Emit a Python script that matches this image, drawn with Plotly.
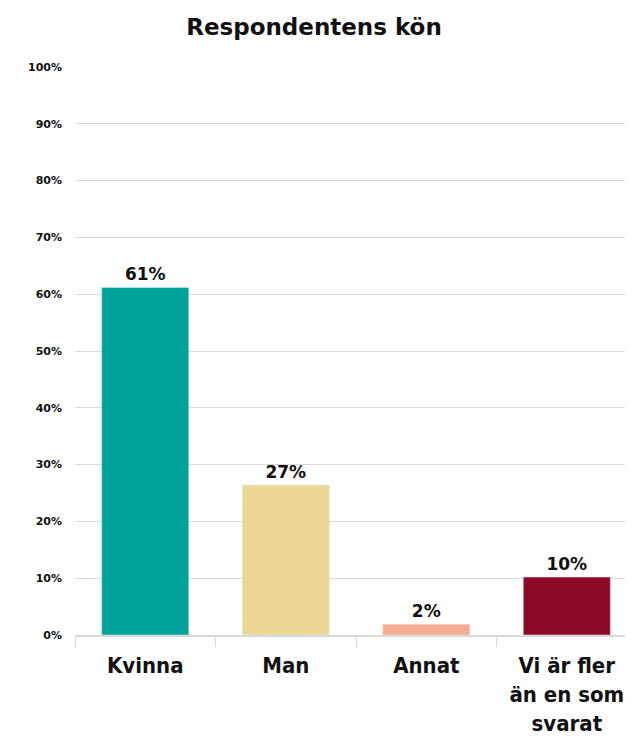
import plotly.graph_objects as go

categories = ["Kvinna", "Man", "Annat", "Vi är fler<br>än en som<br>svarat"]
values = [61.2, 26.4, 1.9, 10.2]
labels = ["61%", "27%", "2%", "10%"]
colors = ["#00A29A", "#EDD795", "#F5AC8F", "#8C0A28"]
yticks = list(range(0, 101, 10))
yticklabels = [f"{v}%" for v in yticks]

fig = go.Figure(go.Bar(
    x=categories, y=values, marker_color=colors,
    text=labels, textposition="outside",
    textfont=dict(family="DejaVu Sans", size=17, color="#111111", weight="bold"),
    cliponaxis=False,
))
fig.update_layout(
    width=633, height=730,
    margin=dict(l=67, r=0, t=59, b=103),
    paper_bgcolor="white", plot_bgcolor="white",
    title=dict(text="Respondentens kön", x=306 / 633, xanchor="center",
               y=1 - 19 / 730, yanchor="middle",
               font=dict(family="DejaVu Sans", size=23, color="#111111", weight="bold")),
    bargap=0.38,
    showlegend=False,
)
fig.update_xaxes(
    range=[-0.5, 3.528], tickson="boundaries", ticks="outside", ticklen=10,
    tickcolor="#D9D9D9", showline=True, linecolor="#D9D9D9", linewidth=2,
    tickfont=dict(family="DejaVu Sans Condensed", size=22, color="#111111", weight="bold"),
    ticklabelstandoff=10, automargin=False,
)
fig.update_yaxes(
    range=[0, 100], tickvals=yticks, ticktext=yticklabels,
    showgrid=True, gridcolor="#D9D9D9", gridwidth=1, zeroline=False,
    tickfont=dict(family="DejaVu Sans", size=11, color="#111111", weight="bold"),
    ticklabelstandoff=12, automargin=False,
)
fig.write_html("out.html")
